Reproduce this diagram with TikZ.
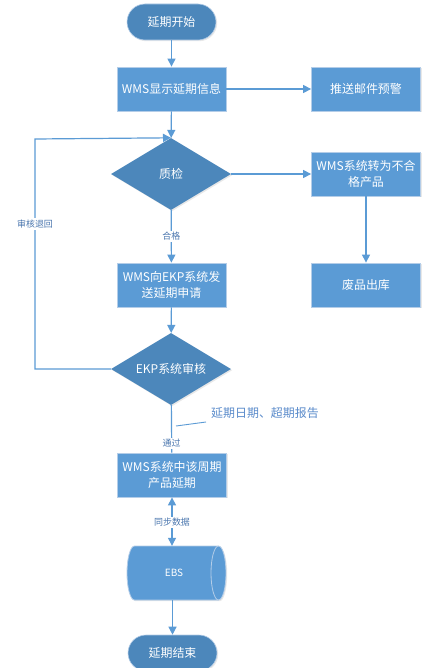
\documentclass[tikz,border=0pt]{standalone}
\usepackage{fontspec}
\setmainfont{Noto Sans CJK SC}
\usetikzlibrary{arrows.meta,shapes.geometric,shadows}
\definecolor{boxblue}{HTML}{5B9BD5}
\definecolor{darkblue}{HTML}{4C87BB}
\definecolor{lineblue}{HTML}{5B9BD5}
\definecolor{edgegray}{HTML}{B4CDE8}
\definecolor{labelblue}{HTML}{4A76AE}
\definecolor{notecol}{HTML}{5A8BCB}
\begin{document}
\begin{tikzpicture}[x=1bp,y=-1bp,
  every node/.style={inner sep=0pt},
  shad/.style={drop shadow={shadow xshift=1.2bp,shadow yshift=-1.2bp,opacity=0.18,fill=gray}},
  box/.style={rectangle, fill=boxblue, draw=edgegray, line width=0.8bp, shad,
    minimum width=109bp, minimum height=44bp, text=white, align=center,
    font=\fontsize{12}{16}\selectfont},
  dia/.style={diamond, aspect=1.667, fill=darkblue, draw=none, shad,
    minimum width=120bp, minimum height=72bp, text=white,
    font=\fontsize{12}{15}\selectfont},
  term/.style={rectangle, rounded corners=18bp, fill=darkblue, draw=edgegray, line width=0.6bp, shad,
    minimum width=89bp, minimum height=36bp, text=white,
    font=\fontsize{12}{15}\selectfont},
  conn/.style={draw=lineblue, line width=1.2bp},
  arr/.style={conn, -{Triangle[length=8bp,width=8bp]}},
  darr/.style={conn, {Triangle[length=8bp,width=8bp]}-{Triangle[length=8bp,width=8bp]}},
  lbl/.style={fill=white, text=labelblue, inner sep=1.5bp, font=\fontsize{9}{11}\selectfont},
  note/.style={text=notecol, font=\fontsize{12}{15}\selectfont}
]
\useasboundingbox (0,0) rectangle (432,668);
\fill[white] (0,0) rectangle (432,668);

% nodes
\node[term] (start) at (171.5,22) {延期开始};
\node[box] (b1) at (171.5,89) {WMS显示延期信息};
\node[box] (mail) at (366,89) {推送邮件预警};
\node[dia] (qc) at (171,174) {质检};
\node[box] (rej) at (366,174) {WMS系统转为不合\\格产品};
\node[box] (scrap) at (366,285) {废品出库};
\node[box] (b2) at (171.5,285) {WMS向EKP系统发\\送延期申请};
\node[dia] (ekp) at (171,369) {EKP系统审核};
\node[box] (b3) at (172,475) {WMS系统中该周期\\产品延期};

% EBS cylinder
\fill[boxblue, shad] (134.5,546) -- (218.5,546) arc(-90:90:7.5 and 27) -- (134.5,600) arc(90:270:7.5 and 27) -- cycle;
\draw[edgegray, line width=0.8bp] (134.5,546) -- (218.5,546) arc(-90:90:7.5 and 27) -- (134.5,600) arc(90:270:7.5 and 27) -- cycle;
\draw[edgegray, line width=0.8bp] (218.5,546) arc(-90:-270:7.5 and 27);
\node[minimum width=99bp, minimum height=54bp, text=white, font=\fontsize{10}{12}\selectfont] (ebs) at (174,573) {EBS};

\node[term] (end) at (172.5,653) {延期结束};

% connectors
\draw[arr] (start) -- (b1);
\draw[arr] (b1) -- (mail);
\draw[arr] (b1) -- (qc);
\draw[arr] (qc) -- (rej);
\draw[arr] (rej) -- (scrap);
\draw[arr] (qc) -- node[lbl]{合格} (b2);
\draw[arr] (b2) -- (ekp);
\coordinate (c1) at (35,369);
\coordinate (c2) at (35,139);
\draw[arr] (ekp.west) -- (c1) -- node[lbl,pos=0.63]{审核退回} (c2) -- (qc.north);
\draw[conn] (ekp) -- node[lbl,pos=0.81]{通过} (b3);
\draw[darr] (b3.south) -- node[lbl,pos=0.52]{同步数据} (b3.south |- ebs.north);
\draw[arr] (end.north |- ebs.south) -- (end);

% note
\node[note, anchor=west] (nt) at (211,413) {延期日期、超期报告};
\coordinate (co1) at (176,426);
\coordinate (co2) at (206,422);
\draw[draw=lineblue, line width=0.9bp] (co1) -- (co2);
\end{tikzpicture}
\end{document}
